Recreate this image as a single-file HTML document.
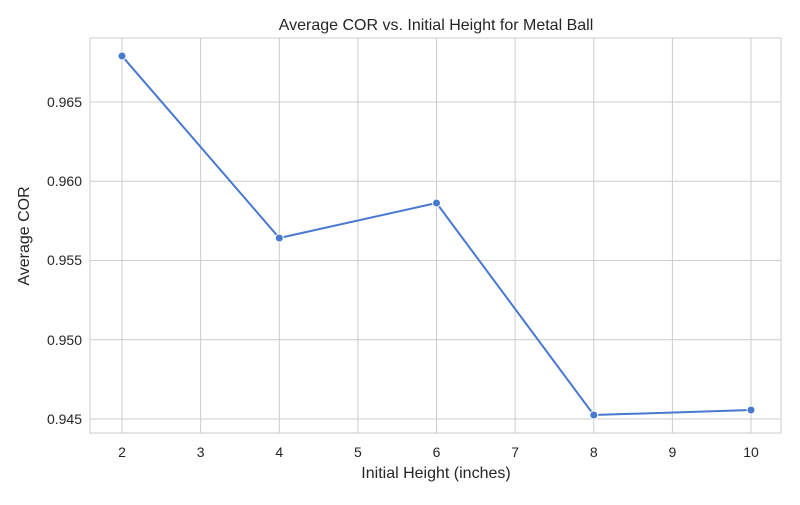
<!DOCTYPE html>
<html><head><meta charset="utf-8"><style>
body{margin:0;background:#fff;}
svg text{font-family:"Liberation Sans","DejaVu Sans",sans-serif;fill:#262626;}
</style></head><body>
<svg width="800" height="500" xmlns="http://www.w3.org/2000/svg">
<rect width="800" height="500" fill="#fff"/>
<g stroke="#cccccc" stroke-width="1">
<line x1="122" y1="38" x2="122" y2="433"/>
<line x1="200.6" y1="38" x2="200.6" y2="433"/>
<line x1="279.3" y1="38" x2="279.3" y2="433"/>
<line x1="357.9" y1="38" x2="357.9" y2="433"/>
<line x1="436.5" y1="38" x2="436.5" y2="433"/>
<line x1="515.1" y1="38" x2="515.1" y2="433"/>
<line x1="593.8" y1="38" x2="593.8" y2="433"/>
<line x1="672.4" y1="38" x2="672.4" y2="433"/>
<line x1="751" y1="38" x2="751" y2="433"/>
<line x1="90" y1="102" x2="781" y2="102"/>
<line x1="90" y1="181.3" x2="781" y2="181.3"/>
<line x1="90" y1="260.5" x2="781" y2="260.5"/>
<line x1="90" y1="339.8" x2="781" y2="339.8"/>
<line x1="90" y1="419" x2="781" y2="419"/>
<rect x="90" y="38" width="691" height="395" fill="none"/>
</g>
<polyline points="122,56 279.3,238 436.5,203 593.8,415 751,410" fill="none" stroke="#4878d0" stroke-width="2"/>
<g fill="#4878d0" stroke="#fff" stroke-width="1">
<circle cx="122" cy="56" r="4"/><circle cx="279.3" cy="238" r="4"/><circle cx="436.5" cy="203" r="4"/><circle cx="593.8" cy="415" r="4"/><circle cx="751" cy="410" r="4"/>
</g>
<g font-size="14" text-anchor="middle">
<text x="122" y="457">2</text><text x="200.6" y="457">3</text><text x="279.3" y="457">4</text><text x="357.9" y="457">5</text><text x="436.5" y="457">6</text><text x="515.1" y="457">7</text><text x="593.8" y="457">8</text><text x="672.4" y="457">9</text><text x="751" y="457">10</text>
</g>
<g font-size="14" text-anchor="end">
<text x="82" y="107">0.965</text><text x="82" y="186">0.960</text><text x="82" y="265">0.955</text><text x="82" y="345">0.950</text><text x="82" y="424">0.945</text>
</g>
<text x="436" y="478" font-size="16" text-anchor="middle">Initial Height (inches)</text>
<text x="29" y="236" font-size="16" text-anchor="middle" transform="rotate(-90 29 236)">Average COR</text>
<text x="436" y="30" font-size="16" text-anchor="middle">Average COR vs. Initial Height for Metal Ball</text>
</svg>
</body></html>
